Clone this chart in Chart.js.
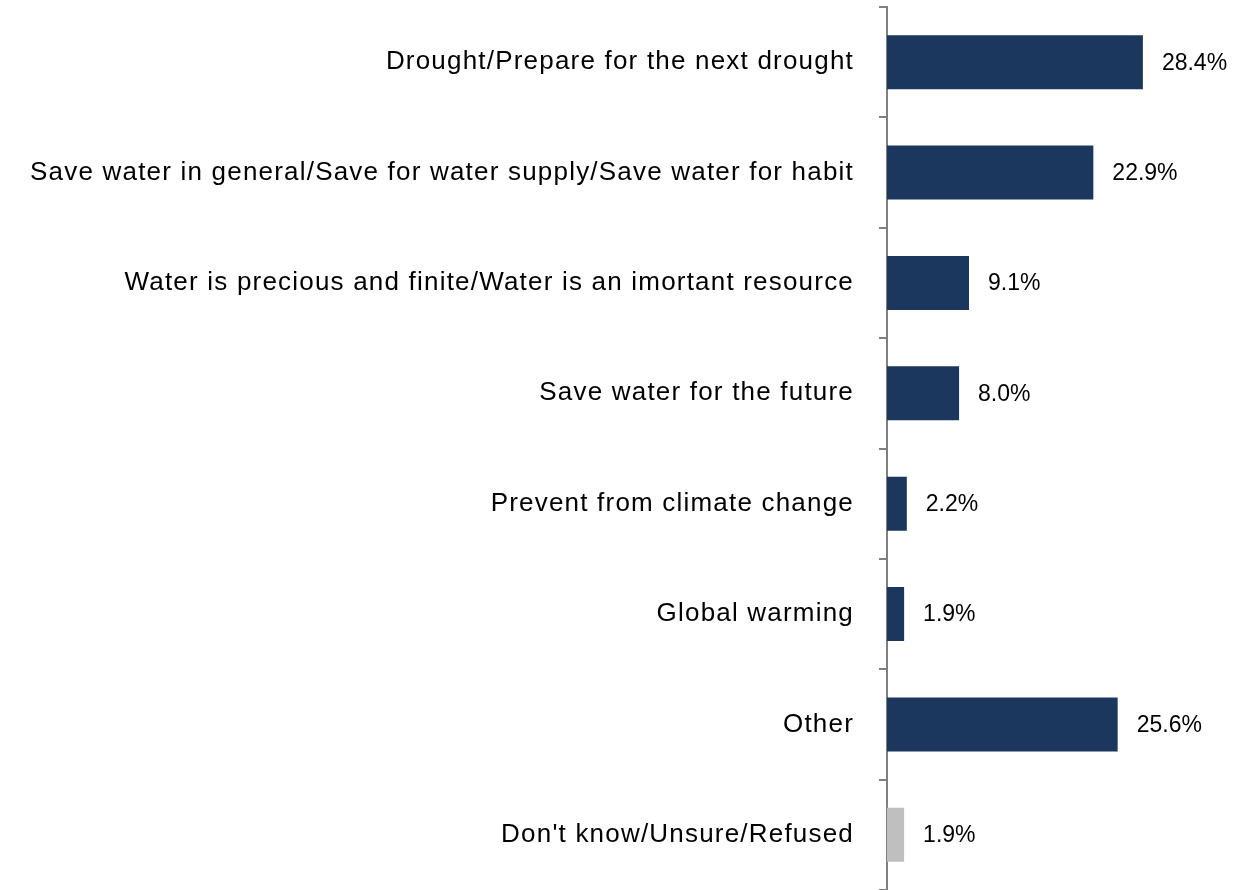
<!DOCTYPE html>
<html>
<head>
<meta charset="utf-8">
<script src="https://cdn.jsdelivr.net/npm/chart.js@4/dist/chart.umd.min.js"></script>
<style>
    html, body { margin: 0; padding: 0; background: #fff; }
    #wrap { width: 1233px; height: 890px; position: relative; }
</style>
</head>
<body>
<div id="wrap"><canvas id="reasons-chart"></canvas></div>
<script>
const categories = [
    "Drought/Prepare for the next drought",
    "Save water in general/Save for water supply/Save water for habit",
    "Water is precious and finite/Water is an imortant resource",
    "Save water for the future",
    "Prevent from climate change",
    "Global warming",
    "Other",
    "Don't know/Unsure/Refused"
];
const percentValues = [28.4, 22.9, 9.1, 8.0, 2.2, 1.9, 25.6, 1.9];
const barColors = ['#1B375E', '#1B375E', '#1B375E', '#1B375E', '#1B375E', '#1B375E', '#1B375E', '#BFBFBF'];

const FONT = "'Liberation Sans', Arial, sans-serif";

// Excel draws the category text a bit wider than plain Arial
const wideLabels = {
    id: 'wideLabels',
    beforeDraw(chart) {
        chart.ctx.letterSpacing = '1.2px';
    }
};

const valueLabels = {
    id: 'valueLabels',
    afterDraw(chart) {
        const ctx = chart.ctx;
        const meta = chart.getDatasetMeta(0);
        ctx.save();
        ctx.letterSpacing = '0px';
        ctx.font = '23px ' + FONT;
        ctx.fillStyle = '#000';
        ctx.textAlign = 'left';
        ctx.textBaseline = 'middle';
        meta.data.forEach((bar, i) => {
            ctx.fillText(percentValues[i].toFixed(1) + '%', bar.x + 19, bar.y + 1);
        });
        ctx.restore();
    }
};

new Chart(document.getElementById('reasons-chart'), {
    type: 'bar',
    data: {
        labels: categories,
        datasets: [{
            data: percentValues,
            backgroundColor: barColors,
            borderWidth: 0,
            barPercentage: 0.49,
            categoryPercentage: 1
        }]
    },
    options: {
        indexAxis: 'y',
        responsive: true,
        maintainAspectRatio: false,
        animation: false,
        layout: { padding: { top: 7, bottom: 0, left: 0, right: 0 } },
        plugins: {
            legend: { display: false },
            tooltip: { enabled: false }
        },
        scales: {
            x: {
                display: false,
                min: 0,
                max: 38.4
            },
            y: {
                z: 1,
                grid: {
                    offset: true,
                    drawOnChartArea: false,
                    drawTicks: true,
                    tickLength: 8,
                    color: '#808080',
                    lineWidth: 2
                },
                border: { color: '#808080', width: 2 },
                ticks: {
                    autoSkip: false,
                    padding: 25,
                    color: '#000',
                    font: { family: FONT, size: 26 }
                },
                afterFit(scale) {
                    scale.width = 887;
                    scale.paddingTop = 0;
                    scale.paddingBottom = 0;
                }
            }
        }
    },
    plugins: [wideLabels, valueLabels]
});
</script>
</body>
</html>
